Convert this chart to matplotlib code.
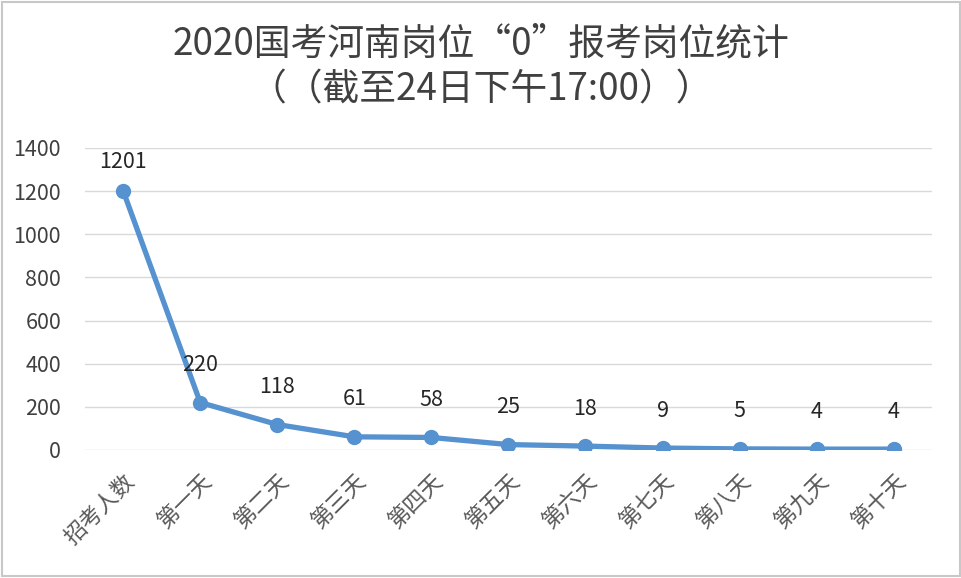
import matplotlib
matplotlib.use("Agg")
import matplotlib.pyplot as plt
from matplotlib.patches import Rectangle

plt.rcParams['font.family'] = ['Noto Sans CJK SC', 'DejaVu Sans']

categories = ["招考人数", "第一天", "第二天", "第三天", "第四天", "第五天",
              "第六天", "第七天", "第八天", "第九天", "第十天"]
values = [1201, 220, 118, 61, 58, 25, 18, 9, 5, 4, 4]
yticks = [0, 200, 400, 600, 800, 1000, 1200, 1400]
title = "2020国考河南岗位“0”报考岗位统计\n（（截至24日下午17:00））"

line_color = "#5592cf"
text_color = "#404040"

fig = plt.figure(figsize=(9.62, 5.78), dpi=100)
ax = fig.add_axes([0.088, 0.2215, 0.881, 0.5225])

x = list(range(len(categories)))
ax.plot(x, values, color=line_color, linewidth=3.8, marker="o",
        markersize=10, markeredgecolor=line_color, zorder=3)

for i, v in enumerate(values):
    off = 21 if v > 1000 else 27
    ax.annotate(str(v), (i, v), xytext=(0, off), textcoords="offset points",
                ha="center", va="center", fontsize=15.5, color="#262626")

ax.set_xlim(-0.5, len(categories) - 0.5)
ax.set_ylim(0, 1400)
ax.set_yticks(yticks)
ax.set_xticks(x)
ax.set_xticklabels(categories, rotation=45, ha="right", rotation_mode="anchor",
                   fontsize=16, color="#595959")
ax.tick_params(axis="y", labelsize=15.5, labelcolor=text_color, length=0, pad=17)
ax.tick_params(axis="x", length=0, pad=14)
ax.grid(axis="y", color="#d9d9d9", linewidth=1)
ax.set_axisbelow(True)
for s in ax.spines.values():
    s.set_visible(False)

fig.text(0.5, 0.884, title, ha="center", va="center", fontsize=26.5,
         color=text_color, linespacing=1.25)

fig.patches.append(Rectangle((0.002, 0.003), 0.996, 0.994, transform=fig.transFigure,
                             fill=False, edgecolor="#c8c8c8", linewidth=1.5))

fig.savefig("out.png", dpi=100)
